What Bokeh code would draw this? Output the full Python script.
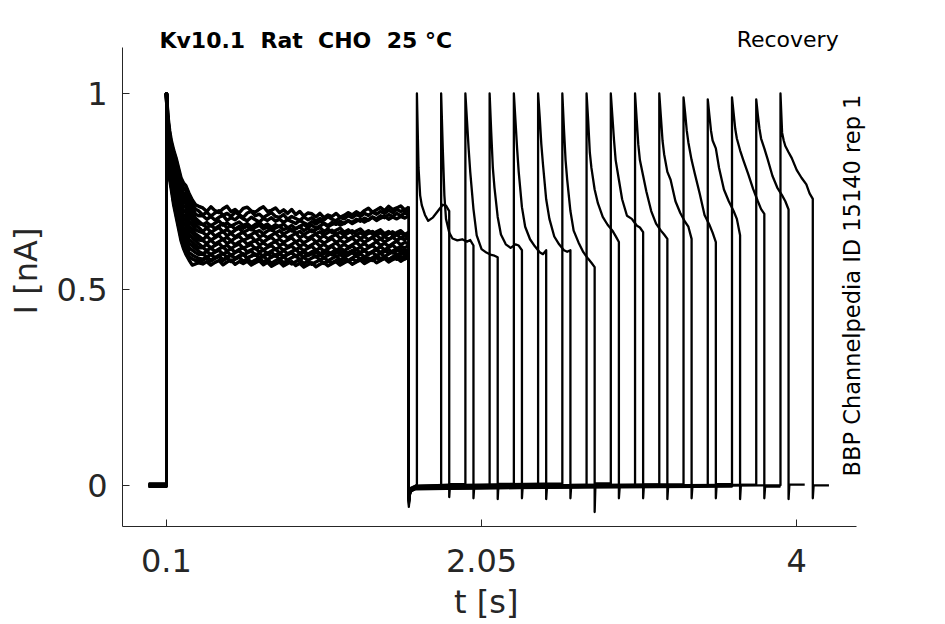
import numpy as np
from bokeh.plotting import figure
from bokeh.models import ColumnDataSource, FixedTicker, CustomJSTickFormatter, Label, Range1d
from bokeh.embed import file_html
from bokeh.resources import INLINE

# ---------------- protocol timing (s) ----------------
rec_start = -0.01
pre_on = 0.1
pre_off = 1.6
test_on = [1.65, 1.80, 1.95, 2.10, 2.25, 2.40, 2.55, 2.70,
           2.85, 3.00, 3.15, 3.30, 3.45, 3.60, 3.75, 3.90]
post_dur = 0.1

# ---------------- prepulse current (nA), times relative to pre_on ----------------
pre_decay_t = [0, 0.01, 0.02, 0.03, 0.045, 0.06, 0.075, 0.09, 0.105, 0.12, 0.14, 0.16, 0.18, 0.2]
pre_plat_t = [0.225, 0.25, 0.275, 0.3, 0.325, 0.35, 0.375, 0.4, 0.425, 0.45, 0.475, 0.5, 0.525,
              0.55, 0.575, 0.6, 0.625, 0.65, 0.675, 0.7, 0.725, 0.75, 0.775, 0.8, 0.825, 0.85,
              0.875, 0.9, 0.925, 0.95, 0.975, 1.0, 1.025, 1.05, 1.075, 1.1, 1.125, 1.15, 1.175,
              1.2, 1.225, 1.25, 1.275, 1.3, 1.325, 1.35, 1.375, 1.4, 1.425, 1.45, 1.475, 1.5]

dec_A = [1.0, 0.94, 0.905, 0.88, 0.855, 0.835, 0.81, 0.785, 0.772, 0.765, 0.745, 0.728, 0.716, 0.712]
dec_B = [1.0, 0.931, 0.896, 0.871, 0.845, 0.824, 0.799, 0.774, 0.76, 0.753, 0.733, 0.717, 0.705, 0.70]
dec_C = [1.0, 0.925, 0.885, 0.864, 0.832, 0.816, 0.786, 0.765, 0.746, 0.742, 0.718, 0.707, 0.692, 0.688]
dec_D = [1.0, 0.912, 0.882, 0.852, 0.829, 0.802, 0.781, 0.75, 0.741, 0.727, 0.713, 0.692, 0.682, 0.674]
dec_O = [1.0, 0.907, 0.868, 0.848, 0.814, 0.796, 0.765, 0.744, 0.724, 0.72, 0.696, 0.686, 0.673, 0.667]
dec_E = [1.0, 0.899, 0.862, 0.841, 0.806, 0.788, 0.756, 0.734, 0.714, 0.709, 0.686, 0.676, 0.664, 0.658]
dec_F = [1.0, 0.89, 0.852, 0.832, 0.796, 0.777, 0.745, 0.723, 0.702, 0.697, 0.674, 0.665, 0.653, 0.648]
dec_G = [1.0, 0.881, 0.843, 0.823, 0.786, 0.767, 0.734, 0.712, 0.69, 0.685, 0.662, 0.653, 0.642, 0.636]
dec_H = [1.0, 0.873, 0.836, 0.816, 0.778, 0.758, 0.725, 0.702, 0.681, 0.674, 0.652, 0.643, 0.634, 0.626]
dec_I = [1.0, 0.864, 0.827, 0.807, 0.768, 0.747, 0.714, 0.691, 0.67, 0.662, 0.64, 0.632, 0.624, 0.616]
dec_J = [1.0, 0.855, 0.818, 0.798, 0.758, 0.737, 0.703, 0.68, 0.658, 0.65, 0.628, 0.621, 0.613, 0.606]
dec_K = [1.0, 0.847, 0.811, 0.791, 0.75, 0.728, 0.694, 0.67, 0.648, 0.639, 0.618, 0.611, 0.604, 0.597]
dec_L = [1.0, 0.838, 0.802, 0.782, 0.74, 0.717, 0.683, 0.659, 0.636, 0.627, 0.606, 0.60, 0.594, 0.589]
dec_P = [1.0, 0.829, 0.793, 0.773, 0.73, 0.707, 0.672, 0.648, 0.625, 0.615, 0.594, 0.588, 0.583, 0.579]
dec_M = [1.0, 0.821, 0.787, 0.766, 0.722, 0.697, 0.663, 0.638, 0.615, 0.604, 0.584, 0.578, 0.574, 0.573]
dec_N = [1.0, 0.81, 0.78, 0.755, 0.715, 0.685, 0.655, 0.625, 0.605, 0.59, 0.575, 0.562, 0.565, 0.568]

plat_A = [0.708, 0.699, 0.711, 0.701, 0.696, 0.706, 0.712, 0.698, 0.704, 0.695,
          0.707, 0.71, 0.70, 0.697, 0.705, 0.711, 0.699, 0.702, 0.708, 0.696,
          0.703, 0.694, 0.704, 0.691, 0.699, 0.687, 0.695, 0.693, 0.685, 0.694,
          0.683, 0.69, 0.686, 0.694, 0.684, 0.689, 0.696, 0.69, 0.698, 0.692,
          0.701, 0.707, 0.697, 0.703, 0.709, 0.701, 0.712, 0.704, 0.708, 0.713, 0.703, 0.71]
plat_B = [0.69, 0.697, 0.687, 0.695, 0.701, 0.689, 0.694, 0.686, 0.697,
          0.691, 0.684, 0.695, 0.699, 0.688, 0.692, 0.683, 0.69, 0.696, 0.686,
          0.684, 0.691, 0.679, 0.686, 0.681, 0.676, 0.685, 0.678, 0.683, 0.674,
          0.681, 0.677, 0.686, 0.679, 0.675, 0.684, 0.68, 0.688, 0.683, 0.691,
          0.686, 0.694, 0.689, 0.697, 0.692, 0.699, 0.694, 0.702, 0.696, 0.704, 0.699, 0.703, 0.698]
plat_C = [0.688, 0.679, 0.686, 0.677, 0.684, 0.689, 0.676, 0.683, 0.678, 0.687,
          0.68, 0.675, 0.684, 0.678, 0.672, 0.681, 0.676, 0.683, 0.674, 0.679,
          0.671, 0.678, 0.673, 0.668, 0.676, 0.67, 0.665, 0.673, 0.667, 0.674,
          0.669, 0.663, 0.671, 0.666, 0.674, 0.668, 0.676, 0.671, 0.679, 0.674,
          0.682, 0.677, 0.685, 0.68, 0.688, 0.683, 0.691, 0.686, 0.694, 0.688, 0.695, 0.69]
plat_D = [0.665, 0.671, 0.662, 0.669, 0.675, 0.664, 0.67, 0.661, 0.667,
          0.672, 0.663, 0.668, 0.659, 0.666, 0.671, 0.662, 0.667, 0.658, 0.665,
          0.66, 0.667, 0.657, 0.663, 0.655, 0.661, 0.666, 0.658, 0.664, 0.656,
          0.662, 0.668, 0.66, 0.666, 0.671, 0.664, 0.669, 0.675, 0.668, 0.674,
          0.679, 0.672, 0.678, 0.684, 0.676, 0.682, 0.687, 0.679, 0.685, 0.68, 0.686, 0.682, 0.688]
plat_O = [0.666, 0.658, 0.664, 0.655, 0.662, 0.668, 0.657, 0.663, 0.654, 0.661,
          0.656, 0.662, 0.652, 0.659, 0.664, 0.654, 0.66, 0.651, 0.657, 0.662,
          0.652, 0.658, 0.649, 0.655, 0.66, 0.65, 0.656, 0.647, 0.653, 0.658,
          0.648, 0.654, 0.645, 0.651, 0.656, 0.646, 0.652, 0.643, 0.649, 0.654,
          0.644, 0.65, 0.641, 0.647, 0.652, 0.642, 0.648, 0.639, 0.645, 0.65, 0.64, 0.646]
plat_E = [0.648, 0.657, 0.646, 0.652, 0.658, 0.647, 0.653, 0.644, 0.651,
          0.656, 0.645, 0.651, 0.657, 0.646, 0.65, 0.642, 0.649, 0.654, 0.644,
          0.65, 0.641, 0.647, 0.653, 0.643, 0.648, 0.64, 0.646, 0.652, 0.642,
          0.647, 0.639, 0.645, 0.651, 0.641, 0.646, 0.638, 0.644, 0.65, 0.64,
          0.645, 0.637, 0.643, 0.648, 0.64, 0.645, 0.636, 0.642, 0.647, 0.639, 0.644, 0.638, 0.645]
plat_F = [0.645, 0.638, 0.647, 0.636, 0.642, 0.648, 0.637, 0.643, 0.634, 0.641,
          0.646, 0.635, 0.64, 0.646, 0.634, 0.639, 0.632, 0.638, 0.644, 0.633,
          0.639, 0.631, 0.637, 0.643, 0.632, 0.638, 0.63, 0.636, 0.641, 0.631,
          0.637, 0.629, 0.635, 0.64, 0.63, 0.636, 0.628, 0.634, 0.639, 0.63,
          0.635, 0.627, 0.633, 0.639, 0.629, 0.635, 0.628, 0.634, 0.64, 0.631, 0.637, 0.632]
plat_G = [0.627, 0.636, 0.626, 0.632, 0.638, 0.627, 0.633, 0.624, 0.631,
          0.636, 0.625, 0.63, 0.635, 0.624, 0.629, 0.621, 0.628, 0.633, 0.623,
          0.628, 0.62, 0.626, 0.632, 0.621, 0.627, 0.619, 0.625, 0.631, 0.621,
          0.626, 0.618, 0.624, 0.63, 0.62, 0.626, 0.619, 0.625, 0.631, 0.622,
          0.628, 0.62, 0.626, 0.633, 0.623, 0.629, 0.621, 0.627, 0.634, 0.625, 0.631, 0.627, 0.633]
plat_H = [0.625, 0.617, 0.626, 0.616, 0.622, 0.628, 0.617, 0.623, 0.614, 0.621,
          0.626, 0.615, 0.62, 0.625, 0.613, 0.619, 0.611, 0.617, 0.622, 0.612,
          0.617, 0.609, 0.615, 0.621, 0.61, 0.616, 0.608, 0.614, 0.62, 0.61,
          0.615, 0.607, 0.613, 0.619, 0.609, 0.615, 0.608, 0.614, 0.62, 0.611,
          0.617, 0.609, 0.615, 0.622, 0.612, 0.618, 0.61, 0.617, 0.623, 0.614, 0.62, 0.616]
plat_I = [0.608, 0.615, 0.606, 0.612, 0.618, 0.607, 0.613, 0.604, 0.611,
          0.616, 0.605, 0.61, 0.615, 0.604, 0.609, 0.601, 0.607, 0.612, 0.602,
          0.608, 0.60, 0.606, 0.611, 0.601, 0.607, 0.599, 0.605, 0.61, 0.60,
          0.606, 0.598, 0.604, 0.61, 0.60, 0.606, 0.599, 0.605, 0.611, 0.602,
          0.608, 0.60, 0.606, 0.612, 0.603, 0.609, 0.601, 0.607, 0.613, 0.604, 0.61, 0.606, 0.612]
plat_J = [0.607, 0.599, 0.606, 0.597, 0.603, 0.609, 0.598, 0.604, 0.595, 0.602,
          0.607, 0.596, 0.601, 0.606, 0.595, 0.60, 0.592, 0.598, 0.603, 0.593,
          0.599, 0.591, 0.597, 0.602, 0.592, 0.598, 0.59, 0.596, 0.601, 0.591,
          0.597, 0.589, 0.595, 0.601, 0.591, 0.597, 0.59, 0.596, 0.602, 0.593,
          0.599, 0.591, 0.597, 0.603, 0.594, 0.60, 0.592, 0.598, 0.604, 0.595, 0.601, 0.597]
plat_K = [0.591, 0.597, 0.589, 0.595, 0.60, 0.59, 0.596, 0.587, 0.594,
          0.599, 0.588, 0.593, 0.598, 0.587, 0.592, 0.584, 0.59, 0.595, 0.585,
          0.591, 0.583, 0.589, 0.594, 0.584, 0.59, 0.582, 0.588, 0.593, 0.583,
          0.589, 0.581, 0.587, 0.593, 0.583, 0.589, 0.582, 0.588, 0.594, 0.585,
          0.591, 0.583, 0.589, 0.595, 0.586, 0.592, 0.584, 0.59, 0.596, 0.587, 0.593, 0.589, 0.595]
plat_L = [0.59, 0.583, 0.589, 0.581, 0.587, 0.592, 0.582, 0.588, 0.579, 0.586,
          0.591, 0.58, 0.585, 0.59, 0.579, 0.584, 0.576, 0.582, 0.587, 0.577,
          0.583, 0.575, 0.581, 0.586, 0.576, 0.582, 0.574, 0.58, 0.585, 0.575,
          0.581, 0.573, 0.579, 0.585, 0.575, 0.581, 0.574, 0.58, 0.586, 0.577,
          0.583, 0.575, 0.581, 0.587, 0.578, 0.584, 0.576, 0.582, 0.588, 0.579, 0.585, 0.581]
plat_P = [0.577, 0.583, 0.574, 0.581, 0.586, 0.576, 0.582, 0.588, 0.579, 0.584,
          0.589, 0.58, 0.585, 0.59, 0.581, 0.587, 0.592, 0.583, 0.588, 0.593,
          0.584, 0.589, 0.594, 0.585, 0.59, 0.595, 0.586, 0.591, 0.596, 0.587,
          0.592, 0.597, 0.588, 0.593, 0.598, 0.589, 0.594, 0.599, 0.59, 0.595,
          0.60, 0.591, 0.596, 0.601, 0.592, 0.597, 0.602, 0.593, 0.598, 0.603, 0.594, 0.599]
plat_M = [0.574, 0.581, 0.572, 0.579, 0.584, 0.574, 0.58, 0.571, 0.577, 0.582,
          0.572, 0.578, 0.569, 0.575, 0.58, 0.57, 0.576, 0.567, 0.573, 0.578,
          0.568, 0.574, 0.565, 0.571, 0.576, 0.566, 0.572, 0.564, 0.57, 0.575,
          0.566, 0.572, 0.568, 0.574, 0.57, 0.577, 0.571, 0.578, 0.572, 0.579,
          0.573, 0.58, 0.574, 0.581, 0.575, 0.582, 0.576, 0.583, 0.577, 0.584, 0.578, 0.582]
plat_N = [0.565, 0.571, 0.562, 0.569, 0.574, 0.563, 0.57, 0.575, 0.564, 0.571,
          0.566, 0.572, 0.562, 0.568, 0.573, 0.563, 0.569, 0.559, 0.565, 0.57,
          0.56, 0.566, 0.571, 0.561, 0.567, 0.557, 0.563, 0.568, 0.558, 0.564,
          0.569, 0.56, 0.566, 0.571, 0.562, 0.568, 0.573, 0.564, 0.57, 0.575,
          0.566, 0.572, 0.577, 0.568, 0.574, 0.579, 0.57, 0.576, 0.581, 0.572, 0.578, 0.582]

# sweep order of the prepulse traces
pre_decay = [dec_F, dec_K, dec_A, dec_H, dec_N, dec_C, dec_I, dec_E,
             dec_L, dec_B, dec_G, dec_M, dec_D, dec_J, dec_O, dec_P]
pre_plat = [plat_F, plat_K, plat_A, plat_H, plat_N, plat_C, plat_I, plat_E,
            plat_L, plat_B, plat_G, plat_M, plat_D, plat_J, plat_O, plat_P]

# ---------------- test pulse current (nA), times relative to test onset ----------------
test_t = [0, 0.01, 0.02, 0.03, 0.05, 0.07, 0.10, 0.13, 0.16, 0.18, 0.20]
test_i = [
    [1.0, 0.81, 0.74, 0.715, 0.69, 0.675, 0.684, 0.70, 0.716, 0.714, 0.70],
    [1.0, 0.86, 0.74, 0.68, 0.645, 0.63, 0.625, 0.628, 0.622, 0.626, 0.612],
    [1.0, 0.93, 0.86, 0.80, 0.705, 0.638, 0.603, 0.594, 0.588, 0.586, 0.582],
    [1.0, 0.90, 0.81, 0.76, 0.685, 0.64, 0.615, 0.606, 0.615, 0.612, 0.60],
    [1.0, 0.93, 0.86, 0.80, 0.71, 0.66, 0.628, 0.61, 0.595, 0.59, 0.60],
    [1.0, 0.94, 0.87, 0.82, 0.73, 0.68, 0.635, 0.615, 0.60, 0.596, 0.60],
    [1.0, 0.91, 0.83, 0.78, 0.70, 0.65, 0.62, 0.595, 0.578, 0.568, 0.557],
    [1.0, 0.93, 0.85, 0.81, 0.755, 0.72, 0.685, 0.665, 0.65, 0.636, 0.621],
    [1.0, 0.94, 0.88, 0.83, 0.78, 0.73, 0.688, 0.68, 0.663, 0.658, 0.646],
    [1.0, 0.935, 0.87, 0.83, 0.79, 0.75, 0.70, 0.668, 0.65, 0.64, 0.629],
    [1.0, 0.94, 0.88, 0.845, 0.80, 0.78, 0.725, 0.695, 0.672, 0.66, 0.629],
    [0.99, 0.95, 0.905, 0.875, 0.83, 0.795, 0.745, 0.69, 0.665, 0.645, 0.621],
    [0.985, 0.945, 0.905, 0.88, 0.86, 0.81, 0.755, 0.725, 0.70, 0.68, 0.638],
    [0.99, 0.95, 0.91, 0.885, 0.855, 0.83, 0.795, 0.757, 0.725, 0.705, 0.693],
    [0.985, 0.945, 0.91, 0.885, 0.86, 0.833, 0.79, 0.76, 0.74, 0.725, 0.704],
    [1.0, 0.90, 0.88, 0.866, 0.85, 0.835, 0.805, 0.785, 0.768, 0.745, 0.731],
]

# ---------------- baseline / tail transients (nA) ----------------
base_lvl = [0.003, -0.002, 0.004, 0.0, -0.003, 0.001, 0.005, -0.004,
            0.002, -0.001, -0.002, 0.003, 0.001, -0.003, 0.002, 0.0]
pre_off_dip = [-0.035, -0.04, -0.055, -0.03, -0.045, -0.035, -0.04, -0.03,
               -0.05, -0.035, -0.04, -0.03, -0.045, -0.035, -0.04, -0.03]
gap_recov_t = [0.01, 0.04]
gap_recov_i = [-0.012, -0.006]
test_off_dip = [-0.03, -0.033, -0.035, -0.033, -0.035, -0.033, -0.068, -0.033,
                -0.033, -0.035, -0.033, -0.033, -0.035, -0.033, -0.035, -0.033]

xs, ys = [], []
xs_pre, ys_pre = [], []
for k in range(16):
    b = base_lvl[k]
    px = [pre_on + t for t in pre_decay_t] + [pre_on + t for t in pre_plat_t]
    py = list(pre_decay[k]) + list(pre_plat[k])
    n = min(len(px), len(py))
    px, py = px[:n], py[:n]
    xs_pre.append(px)
    ys_pre.append(py)
    x = [rec_start, pre_on] + px
    y = [b, b] + py
    x += [pre_off] + [pre_off + t for t in gap_recov_t] + [test_on[k]]
    y += [pre_off_dip[k]] + [b + v for v in gap_recov_i] + [b]
    x += [test_on[k] + t for t in test_t]
    y += test_i[k]
    t_end = test_on[k] + test_t[-1]
    x += [t_end, t_end + 0.005, t_end + post_dur]
    y += [test_off_dip[k], b, b]
    xs.append(x)
    ys.append(y)

src = ColumnDataSource(data=dict(xs=xs, ys=ys))
src_pre = ColumnDataSource(data=dict(xs=xs_pre, ys=ys_pre))

FONT = "DejaVu Sans"
TXT = "#262626"
X_AX = (-0.172, 4.37)
Y_AX = (-0.105, 1.117)

p = figure(width=940, height=624, output_backend="svg", toolbar_location=None,
           x_range=Range1d(-0.172, 4.519), y_range=Range1d(-0.105, 1.199),
           min_border_left=122, min_border_right=60, min_border_top=15, min_border_bottom=98)
p.outline_line_color = None
p.xgrid.visible = False
p.ygrid.visible = False
p.background_fill_color = "white"
p.border_fill_color = "white"

p.multi_line(xs="xs", ys="ys", source=src, line_color="black", line_width=2.3, line_join="round")
p.multi_line(xs="xs", ys="ys", source=src_pre, line_color="black", line_width=3.4, line_join="round")

fmt = CustomJSTickFormatter(code="return String(tick);")
for ax in (p.xaxis[0], p.yaxis[0]):
    ax.formatter = fmt
    ax.axis_line_color = TXT
    ax.axis_line_width = 1
    ax.major_tick_line_color = TXT
    ax.major_tick_in = 7
    ax.major_tick_out = 0
    ax.minor_tick_line_color = None
    ax.major_label_text_font = FONT
    ax.major_label_text_font_size = "32px"
    ax.major_label_text_color = TXT
    ax.axis_label_text_font = FONT
    ax.axis_label_text_font_size = "32px"
    ax.axis_label_text_font_style = "normal"
    ax.axis_label_text_color = TXT

NB = "\u00a0"
p.xaxis.bounds = X_AX
p.yaxis.bounds = Y_AX
p.xaxis.ticker = FixedTicker(ticks=[0.1, 2.05, 4])
p.yaxis.ticker = FixedTicker(ticks=[0, 0.5, 1])
p.xaxis.axis_label = "t [s]" + NB * 3
p.yaxis.axis_label = "I [nA]"
p.xaxis.major_label_standoff = 22
p.xaxis.axis_label_standoff = 8
p.yaxis.major_label_standoff = 15
p.yaxis.axis_label_standoff = 9
p.yaxis.major_label_orientation = "horizontal"

p.add_layout(Label(x=0.0567, y=1.135, text="Kv10.1" + NB + " Rat" + NB + " CHO" + NB + " 25 °C",
                   text_font=FONT, text_font_style="bold", text_font_size="22px",
                   text_color="black", text_align="left", text_baseline="middle"))
p.add_layout(Label(x=4.26, y=1.138, text="Recovery", text_font=FONT,
                   text_font_size="22px", text_color="black",
                   text_align="right", text_baseline="middle"))
p.add_layout(Label(x=4.341, y=0.51, text="BBP Channelpedia ID 15140 rep 1", text_font=FONT,
                   text_font_size="22.5px", text_color="black", angle=np.pi / 2,
                   text_align="center", text_baseline="middle"))

open("out.html", "w").write(file_html(p, INLINE))
